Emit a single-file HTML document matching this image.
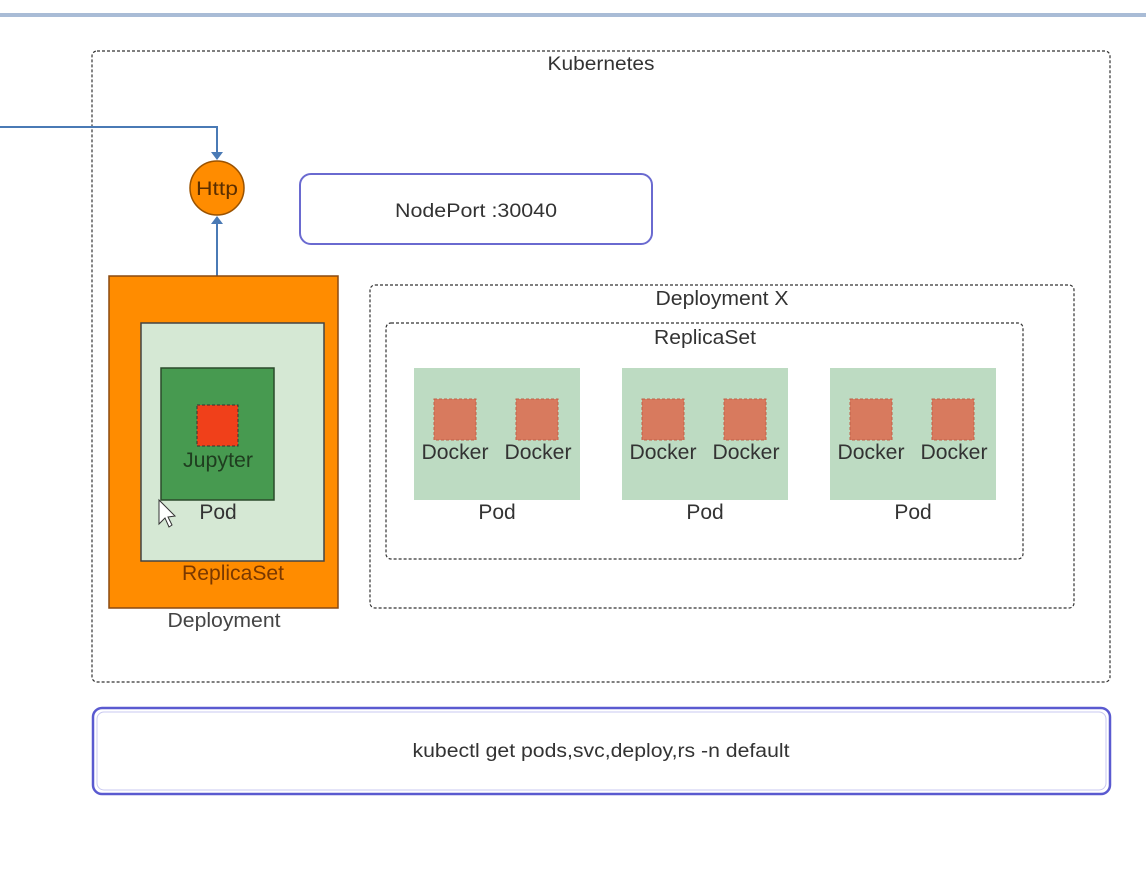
<!DOCTYPE html>
<html><head><meta charset="utf-8"><style>
html,body{margin:0;padding:0;background:#fff;}
svg text{font-family:"Liberation Sans",sans-serif;}
</style></head><body>
<svg width="1146" height="890" viewBox="0 0 1146 890" xmlns="http://www.w3.org/2000/svg">
<rect x="0" y="13" width="1146" height="4" fill="#a9bcd6"/>
<rect x="92" y="51" width="1018" height="631" rx="5" fill="none" stroke="#333" stroke-width="1.2" stroke-dasharray="3,2"/>
<text x="601" y="70" font-size="19" fill="#333" text-anchor="middle" textLength="107" lengthAdjust="spacingAndGlyphs">Kubernetes</text>
<polyline points="0,127 217,127 217,154" fill="none" stroke="#4a7ab5" stroke-width="2"/>
<polygon points="211,152 223,152 217,160" fill="#4a7ab5"/>
<line x1="217" y1="276" x2="217" y2="222" stroke="#4a7ab5" stroke-width="2"/>
<polygon points="211,224 223,224 217,216" fill="#4a7ab5"/>
<circle cx="217" cy="188" r="27" fill="#ff8c00" stroke="#9a5200" stroke-width="1.5"/>
<text x="217" y="195" font-size="19" fill="#5a2e00" text-anchor="middle" textLength="42" lengthAdjust="spacingAndGlyphs">Http</text>
<rect x="300" y="174" width="352" height="70" rx="11" fill="#fff" stroke="#6a6ad0" stroke-width="2"/>
<text x="476" y="217" font-size="19" fill="#333" text-anchor="middle" textLength="162" lengthAdjust="spacingAndGlyphs">NodePort :30040</text>
<rect x="109" y="276" width="229" height="332" fill="#ff8c00" stroke="#8a4a10" stroke-width="1.5"/>
<rect x="141" y="323" width="183" height="238" fill="#d5e8d4" stroke="#444" stroke-width="1.5"/>
<rect x="161" y="368" width="113" height="132" fill="#479a50" stroke="#2b4a2b" stroke-width="1.5"/>
<rect x="197" y="405" width="41" height="41" fill="#f0401a" stroke="#333" stroke-dasharray="3,2"/>
<text x="218" y="467" font-size="21" fill="#1f3d1f" text-anchor="middle" textLength="70" lengthAdjust="spacingAndGlyphs">Jupyter</text>
<text x="218" y="519" font-size="21" fill="#333" text-anchor="middle">Pod</text>
<text x="233" y="580" font-size="21" fill="#7a3800" text-anchor="middle" textLength="102" lengthAdjust="spacingAndGlyphs">ReplicaSet</text>
<text x="224" y="627" font-size="20" fill="#444" text-anchor="middle" textLength="113" lengthAdjust="spacingAndGlyphs">Deployment</text>
<rect x="370" y="285" width="704" height="323" rx="5" fill="none" stroke="#333" stroke-width="1.2" stroke-dasharray="3,2"/>
<text x="722" y="305" font-size="20" fill="#333" text-anchor="middle" textLength="133" lengthAdjust="spacingAndGlyphs">Deployment X</text>
<rect x="386" y="323" width="637" height="236" rx="5" fill="none" stroke="#333" stroke-width="1.2" stroke-dasharray="3,2"/>
<text x="705" y="344" font-size="20" fill="#333" text-anchor="middle" textLength="102" lengthAdjust="spacingAndGlyphs">ReplicaSet</text>
<g id="pods">
<rect x="414" y="368" width="166" height="132" fill="#bddbc2"/>
<rect x="434" y="399" width="42" height="41" fill="#d87a5e" stroke="#c06048" stroke-dasharray="3,2"/>
<rect x="516" y="399" width="42" height="41" fill="#d87a5e" stroke="#c06048" stroke-dasharray="3,2"/>
<text x="455" y="459" font-size="21" fill="#333" text-anchor="middle" textLength="67" lengthAdjust="spacingAndGlyphs">Docker</text>
<text x="538" y="459" font-size="21" fill="#333" text-anchor="middle" textLength="67" lengthAdjust="spacingAndGlyphs">Docker</text>
<text x="497" y="519" font-size="21" fill="#333" text-anchor="middle">Pod</text>
</g>
<use href="#pods" x="208"/>
<use href="#pods" x="416"/>
<rect x="93" y="708" width="1017" height="86" rx="9" fill="#fff" stroke="#5a5ad0" stroke-width="2.5"/>
<rect x="97" y="712" width="1009" height="78" rx="7" fill="none" stroke="#c8c8f0" stroke-width="1"/>
<text x="601" y="757" font-size="19" fill="#333" text-anchor="middle" textLength="377" lengthAdjust="spacingAndGlyphs">kubectl get pods,svc,deploy,rs -n default</text>
<path d="M159,500 L159,524 L165,518 L169,527 L172,525 L168,517 L175,516 Z" fill="#fff" stroke="#333" stroke-width="1"/>
</svg>
</body></html>
